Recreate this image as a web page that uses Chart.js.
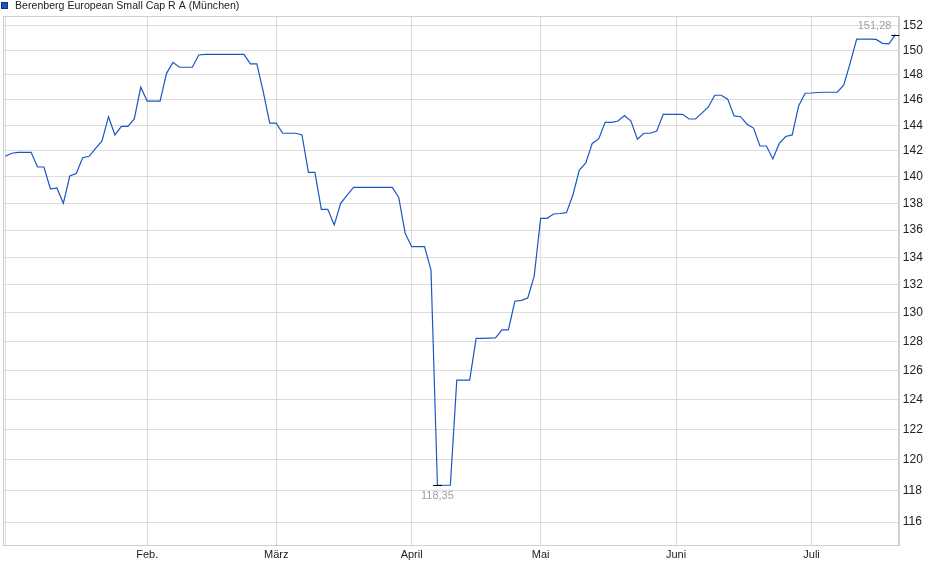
<!DOCTYPE html>
<html>
<head>
<meta charset="utf-8">
<script src="https://cdn.jsdelivr.net/npm/chart.js@4"></script>
<style>
  html, body { margin: 0; padding: 0; background: #fff; }
  #wrap { width: 940px; height: 579px; position: relative; }
</style>
</head>
<body>
<div id="wrap"><canvas id="c" width="940" height="579"></canvas></div>
<script>
const seriesName = 'Berenberg European Small Cap R A (München)';
// closing prices per trading day (index 0 = 2 Jan 2025)
const prices = [
  141.58, 141.82, 141.89, 141.89, 141.89, 140.76, 140.76, 139.08, 139.16, 138.00,
  140.07, 140.26, 141.47, 141.58, 142.19, 142.77, 144.67, 143.24, 143.91, 143.91,
  144.49, 147.01, 145.91, 145.91, 145.91, 148.13, 149.02, 148.62, 148.62, 148.62,
  149.62, 149.66, 149.67, 149.67, 149.67, 149.67, 149.67, 149.67, 148.89, 148.89,
  146.64, 144.17, 144.17, 143.37, 143.37, 143.37, 143.24, 140.35, 140.35, 137.55,
  137.55, 136.38, 138.00, 138.61, 139.21, 139.21, 139.21, 139.21, 139.21, 139.21,
  139.21, 138.44, 135.76, 134.78, 134.78, 134.78, 133.08, 118.35, 118.35, 118.35,
  125.33, 125.33, 125.33, 128.21, 128.21, 128.23, 128.25, 128.80, 128.80, 130.83,
  130.89, 131.06, 132.64, 136.88, 136.88, 137.20, 137.24, 137.30, 138.63, 140.53,
  141.07, 142.58, 142.93, 144.23, 144.23, 144.33, 144.77, 144.33, 142.90, 143.37,
  143.37, 143.55, 144.86, 144.86, 144.86, 144.86, 144.49, 144.49, 144.95, 145.44,
  146.37, 146.37, 146.06, 144.73, 144.67, 144.08, 143.78, 142.38, 142.38, 141.38,
  142.58, 143.12, 143.24, 145.52, 146.53, 146.55, 146.59, 146.61, 146.61, 146.61,
  147.19, 148.97, 150.91, 150.91, 150.91, 150.89, 150.57, 150.52, 151.28
];
const monthTickIdx = [0, 22, 42, 63, 83, 104, 125];
const monthLabels = ['', 'Feb.', 'März', 'April', 'Mai', 'Juni', 'Juli'];
const yTicks = [116, 118, 120, 122, 124, 126, 128, 130, 132, 134, 136, 138, 140, 142, 144, 146, 148, 150, 152];
const minIdx = 67, minLabel = '118,35';
const lastIdx = 138, lastLabel = '151,28';

const FONT = 'Liberation Sans, Arial, sans-serif';
const points = prices.map((v, i) => ({ x: i, y: v }));

const overlay = {
  id: 'overlay',
  afterDatasetsDraw(chart) {
    const { ctx, scales } = chart;
    const xs = scales.x, ys = scales.y;
    ctx.save();
    // min marker
    let px = xs.getPixelForValue(minIdx), py = ys.getPixelForValue(prices[minIdx]);
    ctx.strokeStyle = '#000'; ctx.lineWidth = 1;
    ctx.beginPath(); ctx.moveTo(px - 4.5, Math.round(py) + 0.5); ctx.lineTo(px + 4.5, Math.round(py) + 0.5); ctx.stroke();
    ctx.fillStyle = '#a0a0a0'; ctx.font = '11px ' + FONT;
    ctx.textAlign = 'center'; ctx.textBaseline = 'middle';
    ctx.fillText(minLabel, px, py + 11);
    // last marker
    px = xs.getPixelForValue(lastIdx); py = ys.getPixelForValue(prices[lastIdx]);
    ctx.beginPath(); ctx.moveTo(px - 4, Math.round(py) + 0.5); ctx.lineTo(px + 4, Math.round(py) + 0.5); ctx.stroke();
    ctx.textAlign = 'right';
    ctx.fillText(lastLabel, px - 4, py - 8.5);
    // legend
    ctx.fillStyle = '#1a56c4'; ctx.fillRect(1.5, 2.5, 6, 6);
    ctx.strokeStyle = '#10337a'; ctx.strokeRect(1.5, 2.5, 6, 6);
    ctx.fillStyle = '#222'; ctx.textAlign = 'left'; ctx.textBaseline = 'middle';
    ctx.font = '10.6px ' + FONT;
    ctx.fillText(seriesName, 15, 6.5);
    ctx.restore();
  }
};

new Chart(document.getElementById('c'), {
  type: 'line',
  data: {
    datasets: [{
      label: seriesName,
      data: points,
      borderColor: '#1a56c4',
      borderWidth: 1.2,
      pointRadius: 0,
      tension: 0,
      fill: false
    }]
  },
  options: {
    responsive: false,
    animation: false,
    devicePixelRatio: 1,
    layout: { padding: { left: 2.7, top: 16, right: 0, bottom: 0 } },
    plugins: { legend: { display: false }, tooltip: { enabled: false } },
    scales: {
      x: {
        type: 'linear',
        min: -0.4,
        max: 138.45,
        afterBuildTicks(scale) { scale.ticks = monthTickIdx.map(v => ({ value: v })); },
        afterFit(scale) { scale.height = 34; },
        grid: { color: '#dcdcdc', drawTicks: false, lineWidth: 1 },
        border: { display: true, color: '#d0d0d0' },
        ticks: {
          autoSkip: false, maxRotation: 0, padding: 3,
          color: '#222', font: { family: FONT, size: 11 },
          callback(v) { const k = monthTickIdx.indexOf(v); return k >= 0 ? monthLabels[k] : ''; }
        }
      },
      y: {
        type: 'logarithmic',
        position: 'right',
        min: 114.56,
        max: 152.83,
        afterBuildTicks(scale) { scale.ticks = yTicks.map(v => ({ value: v })); },
        afterFit(scale) { scale.width = 940 - 898.3; },
        grid: { color: '#dcdcdc', drawTicks: false, lineWidth: 1 },
        border: { display: true, color: '#d0d0d0' },
        ticks: {
          padding: 4.5, color: '#222', font: { family: FONT, size: 12 },
          callback(v) { return String(v); }
        }
      }
    }
  },
  plugins: [overlay, {
    id: 'frame',
    beforeDatasetsDraw(chart) {
      const { ctx, chartArea: a } = chart;
      ctx.save(); ctx.strokeStyle = '#d0d0d0'; ctx.lineWidth = 1;
      ctx.strokeRect(Math.round(a.left) + 0.5, Math.round(a.top) + 0.5, Math.round(a.right - a.left), Math.round(a.bottom - a.top));
      ctx.restore();
    }
  }]
});
</script>
</body>
</html>
